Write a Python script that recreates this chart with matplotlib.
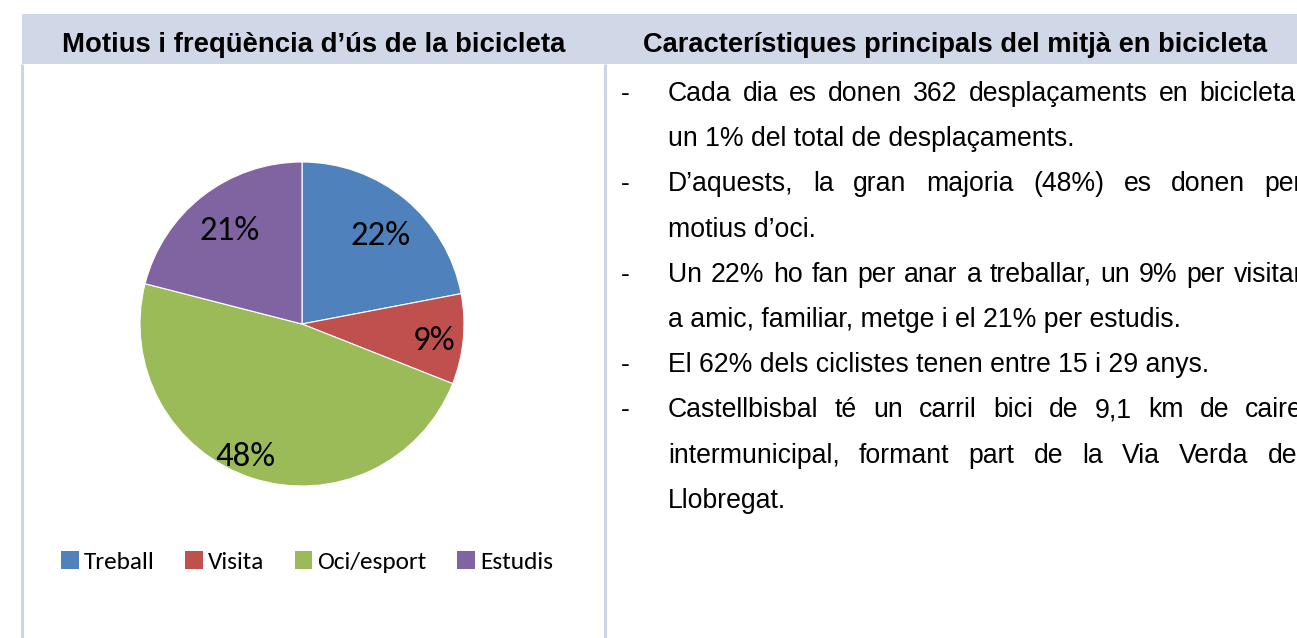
import matplotlib
matplotlib.use("Agg")
import matplotlib.pyplot as plt
from matplotlib.patches import Rectangle, Patch
from matplotlib import font_manager
import numpy as np

# Pie data: reasons for using the bicycle
categories = ['Treball', 'Visita', 'Oci/esport', 'Estudis']
shares = [22, 9, 48, 21]
colors = ['#4F81BD', '#C0504D', '#9BBB59', '#8064A2']

# Header titles
left_title = 'Motius i freqüència d’ús de la bicicleta'
right_title = 'Característiques principals del mitjà en bicicleta'

# Bullet points, one list of lines per paragraph
paragraphs = [
    ['Cada dia es donen 362 desplaçaments en bicicleta,',
     'un 1% del total de desplaçaments.'],
    ['D’aquests, la gran majoria (48%) es donen per',
     'motius d’oci.'],
    ['Un 22% ho fan per anar a treballar, un 9% per visitar',
     'a amic, familiar, metge i el 21% per estudis.'],
    ['El 62% dels ciclistes tenen entre 15 i 29 anys.'],
    ['Castellbisbal té un carril bici de 9,1 km de caire',
     'intermunicipal, formant part de la Via Verda del',
     'Llobregat.'],
]

W, H = 1297, 638
HEADER_COLOR = '#D0D8E8'
BORDER_COLOR = '#CDD4E6'

available = {f.name for f in font_manager.fontManager.ttflist}
body_font = 'Liberation Sans' if 'Liberation Sans' in available else 'DejaVu Sans'
chart_font = next((f for f in ['Carlito', 'Lato'] if f in available), 'DejaVu Sans')

fig = plt.figure(figsize=(W / 100, H / 100), dpi=100)
fig.patch.set_facecolor('white')

# Background axes in pixel coordinates (y grows downwards)
bg = fig.add_axes([0, 0, 1, 1])
bg.set_xlim(0, W)
bg.set_ylim(H, 0)
bg.axis('off')

bg.add_patch(Rectangle((22, 14), W - 22, 50, facecolor=HEADER_COLOR, edgecolor='none'))
bg.plot([21.5, 21.5], [64, H], color=BORDER_COLOR, lw=2.2, solid_capstyle='butt')
bg.plot([604.5, 604.5], [64, H], color=BORDER_COLOR, lw=2.2, solid_capstyle='butt')

bg.text(314, 52, left_title, ha='center', va='baseline', fontsize=19.8,
        fontweight='bold', family=body_font, color='black')
bg.text(643, 52, right_title, ha='left', va='baseline', fontsize=19.6,
        fontweight='bold', family=body_font, color='black')

# Pie chart
pie_cx, pie_cy, pie_r = 302, 324, 162
pax = fig.add_axes([(pie_cx - pie_r) / W, (H - pie_cy - pie_r) / H,
                    2 * pie_r / W, 2 * pie_r / H])
wedges, _ = pax.pie(shares, colors=colors, startangle=90, counterclock=False,
                    radius=1, wedgeprops=dict(edgecolor='white', linewidth=0.8))
pax.set_xlim(-1, 1)
pax.set_ylim(-1, 1)
pax.set_aspect('equal')

label_radius = [0.73, 0.82, 0.89, 0.73]
label_shift = [-2, -2, -5, 0]
for w, v, r, da in zip(wedges, shares, label_radius, label_shift):
    ang = np.deg2rad((w.theta1 + w.theta2) / 2 + da)
    pax.text(r * np.cos(ang), r * np.sin(ang), f'{v}%', ha='center', va='center',
             fontsize=25, family=chart_font, color='black')

handles = [Patch(facecolor=c, edgecolor='none', label=l) for c, l in zip(colors, categories)]
fig.legend(handles=handles, loc='center', bbox_to_anchor=(307 / W, 1 - 562 / H),
           ncol=4, frameon=False, prop={'family': chart_font, 'size': 18.3},
           handlelength=0.7, handleheight=0.7, handletextpad=0.2,
           columnspacing=1.2)

# Bullet text, justified except for the last line of each paragraph
renderer = fig.canvas.get_renderer()
text_left, text_right = 668, 1303
line_y = 101          # baseline of the first line
line_step = 45.2
body_size = 19.2


def draw_justified(line, y):
    words = line.split(' ')
    items = [bg.text(0, y, wd, ha='left', va='baseline', fontsize=body_size,
                     family=body_font, color='black') for wd in words]
    inv = bg.transData.inverted()
    widths = []
    for t in items:
        bb = t.get_window_extent(renderer)
        x0 = inv.transform((bb.x0, bb.y0))[0]
        x1 = inv.transform((bb.x1, bb.y0))[0]
        widths.append(x1 - x0)
    gap = (text_right - text_left - sum(widths)) / max(len(words) - 1, 1)
    x = text_left
    for t, wd in zip(items, widths):
        t.set_x(x)
        x += wd + gap


for para in paragraphs:
    bg.text(621, line_y, '-', ha='left', va='baseline', fontsize=body_size,
            family=body_font, color='black')
    for i, line in enumerate(para):
        if i < len(para) - 1:
            draw_justified(line, line_y)
        else:
            bg.text(text_left, line_y, line, ha='left', va='baseline',
                    fontsize=body_size, family=body_font, color='black')
        line_y += line_step

fig.savefig('out.png', dpi=100, facecolor='white')
